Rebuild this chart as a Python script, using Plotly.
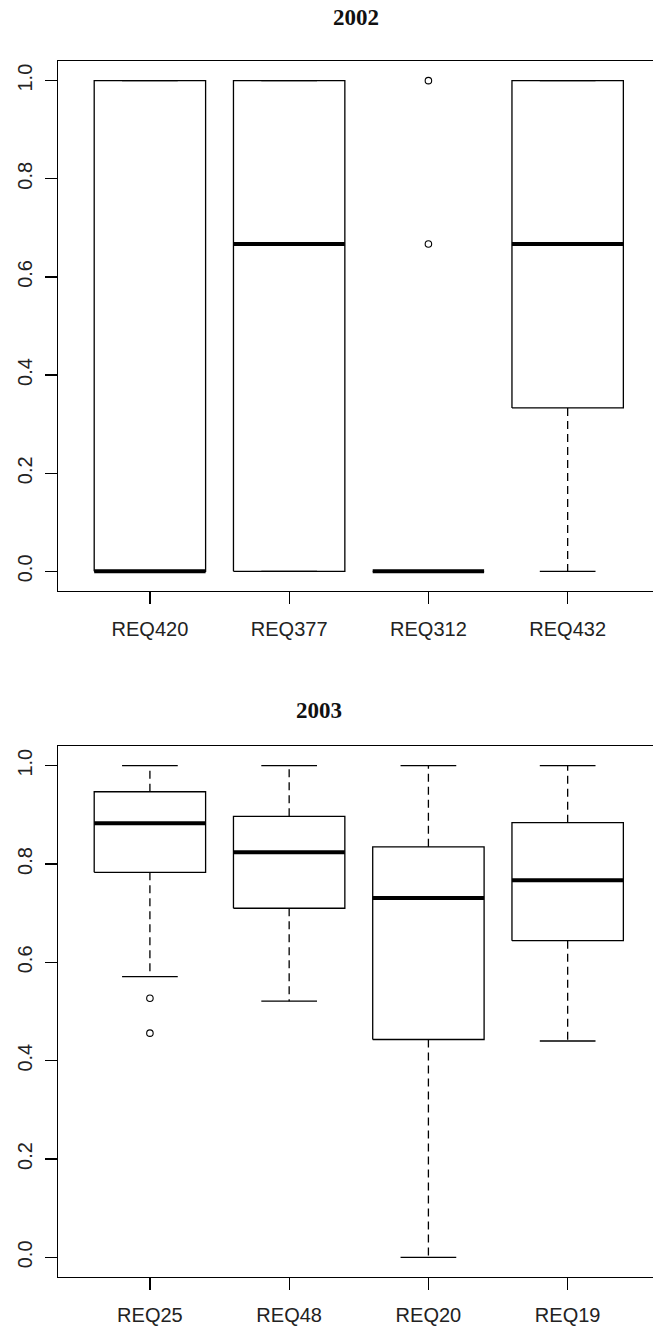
import plotly.graph_objects as go

# ---- data ----
cats_2002 = ["REQ420", "REQ377", "REQ312", "REQ432"]
q1_2002 = [0.0, 0.0, 0.0, 0.333]
med_2002 = [0.0, 0.667, 0.0, 0.667]
q3_2002 = [1.0, 1.0, 0.0, 1.0]
lo_2002 = [0.0, 0.0, 0.0, 0.0]
hi_2002 = [1.0, 1.0, 0.0, 1.0]
out_2002 = [[], [], [1.0, 0.667], []]

cats_2003 = ["REQ25", "REQ48", "REQ20", "REQ19"]
q1_2003 = [0.783, 0.710, 0.443, 0.644]
med_2003 = [0.883, 0.824, 0.731, 0.767]
q3_2003 = [0.947, 0.897, 0.835, 0.884]
lo_2003 = [0.571, 0.521, 0.0, 0.440]
hi_2003 = [1.0, 1.0, 1.0, 1.0]
out_2003 = [[0.527, 0.456], [], [], []]

yticks = [0.0, 0.2, 0.4, 0.6, 0.8, 1.0]

W, H = 653, 1328
ML = 58
BOXW = 0.8
fig = go.Figure()


def add_panel(fig, cats, q1, med, q3, lo, hi, outs, xa, ya):
    rect_x, rect_y = [], []
    wh_x, wh_y = [], []
    st_x, st_y = [], []
    md_x, md_y = [], []
    ox, oy = [], []
    for i in range(len(cats)):
        c = i + 1
        l, r = c - BOXW / 2, c + BOXW / 2
        rect_x += [l, r, r, l, l, None]
        rect_y += [q1[i], q1[i], q3[i], q3[i], q1[i], None]
        wh_x += [c, c, None, c, c, None]
        wh_y += [q3[i], hi[i], None, q1[i], lo[i], None]
        sl, sr = c - BOXW / 4, c + BOXW / 4
        st_x += [sl, sr, None, sl, sr, None]
        st_y += [hi[i], hi[i], None, lo[i], lo[i], None]
        md_x += [l, r, None]
        md_y += [med[i], med[i], None]
        for v in outs[i]:
            ox.append(c)
            oy.append(v)
    common = dict(xaxis=xa, yaxis=ya, showlegend=False, hoverinfo="skip")
    fig.add_trace(go.Scatter(x=wh_x, y=wh_y, mode="lines",
                             line=dict(color="black", width=1.3, dash="8px,5px"), **common))
    fig.add_trace(go.Scatter(x=st_x, y=st_y, mode="lines",
                             line=dict(color="black", width=1.3), **common))
    fig.add_trace(go.Scatter(x=rect_x, y=rect_y, mode="lines",
                             line=dict(color="black", width=1.3), **common))
    fig.add_trace(go.Scatter(x=md_x, y=md_y, mode="lines",
                             line=dict(color="black", width=4), **common))
    fig.add_trace(go.Scatter(x=ox, y=oy, mode="markers",
                             marker=dict(symbol="circle-open", size=6.5,
                                         color="black", line=dict(width=1.1)),
                             **common))


add_panel(fig, cats_2002, q1_2002, med_2002, q3_2002, lo_2002, hi_2002, out_2002, "x", "y")
add_panel(fig, cats_2003, q1_2003, med_2003, q3_2003, lo_2003, hi_2003, out_2003, "x2", "y2")

px_per_unit = 139.25
xr = [0.34, 0.34 + (W - ML) / px_per_unit]

tickfont = dict(family="Liberation Sans, Arial, sans-serif", size=20, color="#222222")

def xaxis(cats, anchor):
    return dict(range=xr, tickvals=[1, 2, 3, 4], ticktext=cats, anchor=anchor,
                showline=True, mirror=True, linecolor="black", linewidth=1.3,
                ticks="outside", ticklen=12, tickwidth=1.3, tickcolor="black",
                showgrid=False, zeroline=False, tickfont=tickfont,
                ticklabelstandoff=8, automargin=False, fixedrange=True)

def yaxis(domain, anchor):
    return dict(range=[-0.04, 1.04], domain=domain, anchor=anchor,
                tickvals=yticks, ticktext=["%.1f" % v for v in yticks],
                tickangle=-90, showline=True, mirror=False, linecolor="black",
                linewidth=1.3, ticks="outside", ticklen=12, tickwidth=1.3,
                tickcolor="black", showgrid=False, zeroline=False,
                tickfont=tickfont, ticklabelstandoff=5, automargin=False,
                fixedrange=True)

def py(p):
    # reference pixel row -> paper fraction
    return 1 - p / H

def px(p):
    return (p - ML) / (W - ML)

fig.update_layout(
    width=W, height=H,
    margin=dict(l=ML, r=0, t=0, b=0),
    paper_bgcolor="white", plot_bgcolor="white",
    template="none",
    xaxis=xaxis(cats_2002, "y"),
    yaxis=yaxis([py(591), py(61)], "x"),
    xaxis2=xaxis(cats_2003, "y2"),
    yaxis2=yaxis([py(1277), py(746)], "x2"),
    annotations=[
        dict(text="<b>2002</b>", xref="paper", yref="paper",
             x=px(356), y=py(18), xanchor="center", yanchor="middle",
             showarrow=False,
             font=dict(family="Liberation Serif, Times New Roman, serif", size=23, color="#111111")),
        dict(text="<b>2003</b>", xref="paper", yref="paper",
             x=px(318.6), y=py(710), xanchor="center", yanchor="middle",
             showarrow=False,
             font=dict(family="Liberation Serif, Times New Roman, serif", size=23, color="#111111")),
    ],
)

fig.write_html("out.html",
               config={"displayModeBar": False, "staticPlot": True},
               post_script="document.body.style.margin='0';document.body.style.overflow='hidden';")
